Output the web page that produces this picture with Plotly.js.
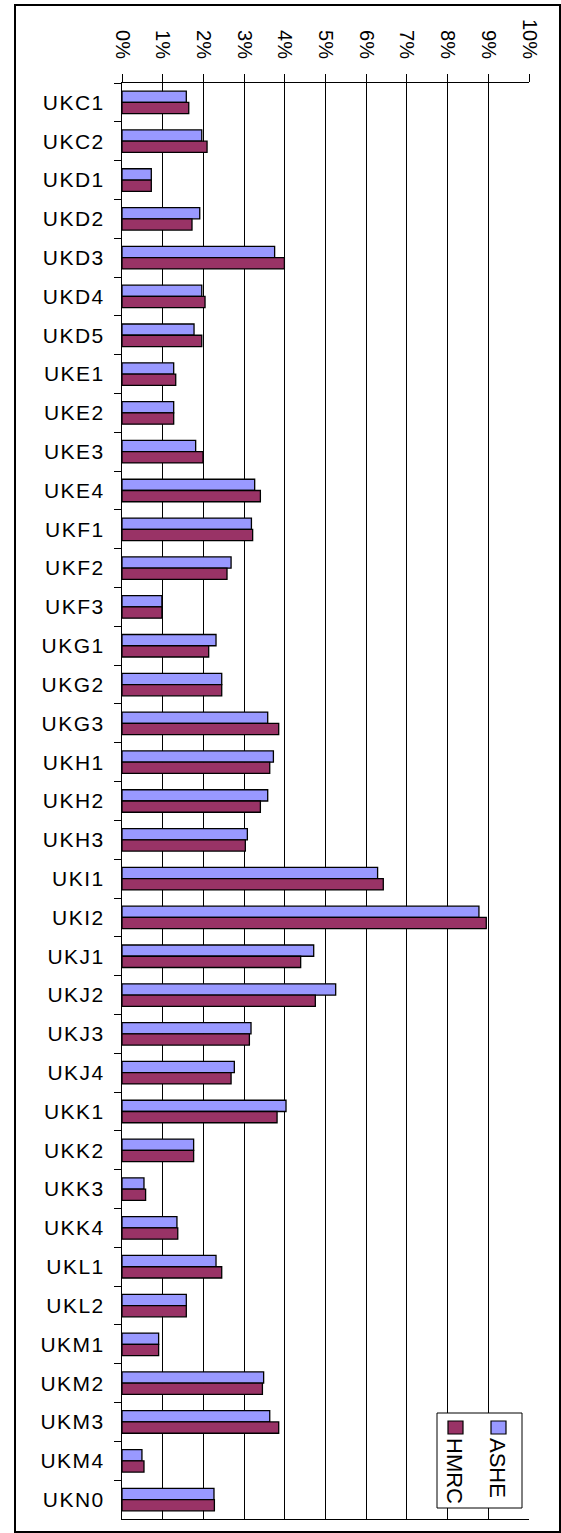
<!DOCTYPE html>
<html>
<head>
<meta charset="utf-8">
<script src="https://cdn.plot.ly/plotly-3.0.1.min.js"></script>
<style>
  html, body { margin: 0; padding: 0; background: #fff; }
  #chart { width: 561px; height: 1533px; }
</style>
</head>
<body>
<div id="chart"></div>
<script>
const regions = ["UKC1","UKC2","UKD1","UKD2","UKD3","UKD4","UKD5","UKE1","UKE2","UKE3","UKE4",
  "UKF1","UKF2","UKF3","UKG1","UKG2","UKG3","UKH1","UKH2","UKH3","UKI1","UKI2",
  "UKJ1","UKJ2","UKJ3","UKJ4","UKK1","UKK2","UKK3","UKK4","UKL1","UKL2",
  "UKM1","UKM2","UKM3","UKM4","UKN0"];
const asheValues = [1.58,1.96,0.72,1.91,3.75,1.96,1.77,1.27,1.27,1.81,3.26,
  3.18,2.68,0.98,2.31,2.45,3.58,3.72,3.58,3.08,6.28,8.77,
  4.71,5.25,3.17,2.76,4.03,1.76,0.54,1.35,2.31,1.58,
  0.90,3.48,3.63,0.49,2.26];
const hmrcValues = [1.64,2.09,0.72,1.72,3.99,2.04,1.96,1.32,1.27,1.99,3.40,
  3.21,2.58,0.98,2.13,2.45,3.85,3.63,3.40,3.03,6.42,8.95,
  4.39,4.75,3.13,2.68,3.81,1.76,0.58,1.37,2.45,1.58,
  0.90,3.45,3.85,0.54,2.27];
const seriesNames = ["ASHE","HMRC"];
const seriesColors = ["#9999FF","#993366"];
const tickValues = [0,1,2,3,4,5,6,7,8,9,10];
const tickLabels = ["0%","1%","2%","3%","4%","5%","6%","7%","8%","9%","10%"];

const traces = [asheValues, hmrcValues].map((vals, i) => ({
  type: "bar",
  orientation: "h",
  name: seriesNames[i],
  y: regions,
  x: vals,
  marker: { color: seriesColors[i], line: { color: "#000", width: 1.3 } },
  hoverinfo: "skip"
}));

// plot area in pixels: x 122..529, y 83..1519
const W = 407, H = 1436;
const px = v => (v - 122) / W;
const py = v => (1519 - v) / H;
const FONT = "Liberation Sans, Arial, sans-serif";

const layout = {
  width: 561,
  height: 1533,
  margin: { l: 122, r: 32, t: 83, b: 14, pad: 0 },
  paper_bgcolor: "#fff",
  plot_bgcolor: "#fff",
  showlegend: false,
  barmode: "group",
  bargap: 0.42,
  bargroupgap: 0,
  font: { family: FONT, color: "#000" },
  xaxis: {
    side: "top",
    range: [0, 10],
    tickmode: "array",
    tickvals: tickValues,
    ticktext: tickLabels,
    tickangle: 90,
    ticks: "outside",
    ticklen: 8,
    tickcolor: "#000",
    tickwidth: 1,
    ticklabelstandoff: 8,
    showgrid: true,
    gridcolor: "#000",
    gridwidth: 1,
    showline: true,
    linecolor: "#000",
    linewidth: 1,
    mirror: true,
    zeroline: false,
    fixedrange: true,
    tickfont: { size: 20, family: FONT, color: "#000" }
  },
  yaxis: {
    type: "category",
    autorange: "reversed",
    tickson: "boundaries",
    ticks: "outside",
    ticklen: 7,
    tickcolor: "#000",
    ticklabelstandoff: 12,
    showline: true,
    linecolor: "#000",
    linewidth: 1,
    showgrid: false,
    zeroline: false,
    fixedrange: true,
    tickfont: { size: 21, family: FONT, color: "#000" }
  },
  shapes: [
    // outer frame
    { type: "rect", xref: "paper", yref: "paper",
      x0: px(15), x1: px(560), y0: py(1532), y1: py(5),
      line: { color: "#000", width: 2 }, fillcolor: "rgba(0,0,0,0)" },
    // legend box
    { type: "rect", xref: "paper", yref: "paper", layer: "above",
      x0: px(437), x1: px(522), y0: py(1508), y1: py(1413),
      line: { color: "#000", width: 1 }, fillcolor: "#fff" },
    // ASHE swatch
    { type: "rect", xref: "paper", yref: "paper", layer: "above",
      x0: px(491), x1: px(506), y0: py(1434), y1: py(1421),
      line: { color: "#000", width: 1.2 }, fillcolor: seriesColors[0] },
    // HMRC swatch
    { type: "rect", xref: "paper", yref: "paper", layer: "above",
      x0: px(448), x1: px(463), y0: py(1434), y1: py(1421),
      line: { color: "#000", width: 1.2 }, fillcolor: seriesColors[1] }
  ],
  annotations: [
    { xref: "paper", yref: "paper", x: px(498), y: py(1468), text: seriesNames[0],
      textangle: 90, showarrow: false, xanchor: "center", yanchor: "middle",
      font: { size: 22, family: FONT, color: "#000" } },
    { xref: "paper", yref: "paper", x: px(455), y: py(1471), text: seriesNames[1],
      textangle: 90, showarrow: false, xanchor: "center", yanchor: "middle",
      font: { size: 22, family: FONT, color: "#000" } }
  ]
};

Plotly.newPlot("chart", traces, layout, { staticPlot: true, displayModeBar: false }).then(() => {
  document.querySelectorAll("#chart .ytick text").forEach(t => {
    t.setAttribute("letter-spacing", "1.5");
    t.style.letterSpacing = "1.5px";
  });
});
</script>
</body>
</html>
